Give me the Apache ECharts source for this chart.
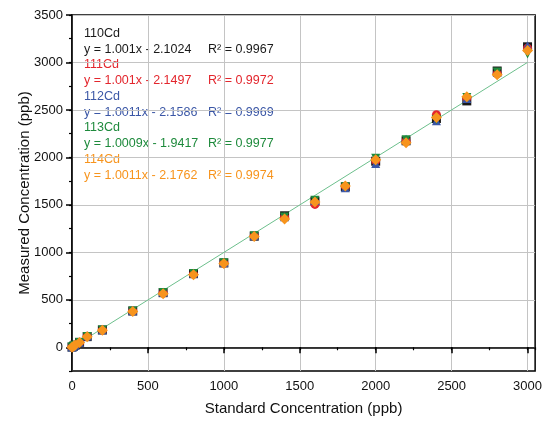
<!DOCTYPE html>
<html>
<head>
<meta charset="utf-8">
<script src="https://cdn.jsdelivr.net/npm/echarts@6/dist/echarts.min.js"></script>
<style>
  html, body { margin: 0; padding: 0; background: #fff; }
  #chart { width: 545px; height: 430px; }
</style>
</head>
<body>
<div id="chart"></div>
<script>
// standard vs measured concentration, Cd isotopes
var standardConc = [0, 10, 20, 50, 100, 200, 400, 600, 800, 1000, 1200, 1400, 1600, 1800, 2000, 2200, 2400, 2600, 2800, 3000];

var cd110 = [2, 11, 22, 52, 112, 182, 382, 575, 775, 888, 1170, 1385, 1540, 1690, 1960, 2175, 2410, 2595, 2910, 3165];
var cd111 = [1, 10, 21, 50, 115, 180, 380, 570, 770, 885, 1172, 1370, 1505, 1695, 1965, 2170, 2450, 2625, 2880, 3150];
var cd112 = [3, 12, 23, 53, 118, 185, 385, 580, 780, 892, 1175, 1375, 1545, 1680, 1935, 2190, 2385, 2620, 2895, 3175];
var cd113 = [2, 11, 22, 51, 113, 183, 383, 578, 776, 889, 1174, 1372, 1548, 1692, 1990, 2185, 2400, 2630, 2900, 3090];
var cd114 = [1, 10, 20, 49, 110, 178, 378, 565, 765, 882, 1168, 1350, 1530, 1700, 1975, 2155, 2420, 2640, 2870, 3125];

var seriesNames = ['110Cd', '111Cd', '112Cd', '113Cd', '114Cd'];
var seriesColors = ['#1a1a1a', '#e3262d', '#3b57a6', '#1e8a3c', '#f7941d'];
var seriesSymbols = ['rect', 'circle', 'triangle', 'path://M0,0 L10,0 L5,9 Z', 'diamond'];
var fitText = [
    ['y = 1.001x - 2.1024', 'R\u00b2 = 0.9967'],
    ['y = 1.001x - 2.1497', 'R\u00b2 = 0.9972'],
    ['y = 1.0011x - 2.1586', 'R\u00b2 = 0.9969'],
    ['y = 1.0009x - 1.9417', 'R\u00b2 = 0.9977'],
    ['y = 1.0011x - 2.1762', 'R\u00b2 = 0.9974']
];
// fitted line drawn across the data range
var fitSlope = 1.001;
var fitIntercept = -2.1;

var majorX = [0, 500, 1000, 1500, 2000, 2500, 3000];
var majorY = [0, 500, 1000, 1500, 2000, 2500, 3000, 3500];

var allValues = [cd110, cd111, cd112, cd113, cd114];

var myChart = echarts.init(document.getElementById('chart'));

var font = 'Liberation Sans, Arial, sans-serif';
var plainNum = function (v) { return String(v); };

var series = [];
var xMin = standardConc[0], xMax = standardConc[standardConc.length - 1];
series.push({
    type: 'line',
    data: [[xMin, fitSlope * xMin + fitIntercept], [xMax, fitSlope * xMax + fitIntercept]],
    symbol: 'none',
    lineStyle: { color: '#6cbf8c', width: 1 },
    z: 1
});
for (var i = 0; i < allValues.length; i++) {
    series.push({
        name: seriesNames[i],
        type: 'scatter',
        data: standardConc.map(function (x, k) { return [x, allValues[i][k]]; }),
        symbol: seriesSymbols[i],
        symbolSize: i === 4 ? 11 : 9,
        itemStyle: { color: seriesColors[i], opacity: 1 },
        z: 2 + i
    });
}

// legend / equation text block
var graphics = [];
for (var j = 0; j < seriesNames.length; j++) {
    var y0 = 27 + j * 31.5;
    graphics.push({
        type: 'text', left: 84, top: y0,
        style: { text: seriesNames[j], fill: seriesColors[j], font: '12.5px ' + font }
    });
    graphics.push({
        type: 'text', left: 84, top: y0 + 16,
        style: { text: fitText[j][0], fill: seriesColors[j], font: '12.5px ' + font }
    });
    graphics.push({
        type: 'text', left: 208, top: y0 + 16,
        style: { text: fitText[j][1], fill: seriesColors[j], font: '12.5px ' + font }
    });
}

var option = {
    animation: false,
    grid: {
        left: 72, top: 15, right: 7, bottom: 59,
        show: true, borderColor: '#000', borderWidth: 1.5, backgroundColor: 'transparent'
    },
    xAxis: [
        {
            type: 'value', min: 0, max: 3050, interval: 250,
            axisLine: { lineStyle: { color: '#000', width: 1.5 } },
            axisTick: { length: 3, lineStyle: { color: '#000', width: 1.2 } },
            axisLabel: { show: false },
            splitLine: { show: true, lineStyle: { color: ['#c4c4c4', 'transparent'], width: 1 } }
        },
        {
            type: 'value', min: 0, max: 3050, position: 'bottom',
            axisLine: { show: false },
            axisTick: { show: true, customValues: majorX, length: 6, lineStyle: { color: '#000', width: 1.5 } },
            axisLabel: { customValues: majorX, formatter: plainNum, color: '#111', fontSize: 13, fontFamily: font, margin: 9 },
            splitLine: { show: false },
            name: 'Standard Concentration (ppb)',
            nameLocation: 'middle', nameGap: 30, nameMoveOverlap: false,
            nameTextStyle: { color: '#111', fontSize: 15, fontFamily: font }
        }
    ],
    yAxis: [
        {
            type: 'value', min: -250, max: 3500, interval: 250,
            axisLine: { show: true, lineStyle: { color: '#000', width: 1.5 } },
            axisTick: { show: true, length: 3, lineStyle: { color: '#000', width: 1.2 } },
            axisLabel: { show: false },
            splitLine: { show: true, lineStyle: { color: ['transparent', '#c4c4c4'], width: 1 } }
        },
        {
            type: 'value', min: -250, max: 3500, position: 'left', offset: 0,
            axisLine: { show: false },
            axisTick: { show: true, customValues: majorY, length: 6, lineStyle: { color: '#000', width: 1.5 } },
            axisLabel: { customValues: majorY, formatter: plainNum, color: '#111', fontSize: 13, fontFamily: font, margin: 9 },
            splitLine: { show: false },
            name: 'Measured Concentration (ppb)',
            nameLocation: 'middle', nameGap: 40, nameRotate: 90, nameMoveOverlap: false,
            nameTextStyle: { color: '#111', fontSize: 15, fontFamily: font }
        }
    ],
    graphic: graphics,
    series: series
};

myChart.setOption(option);
</script>
</body>
</html>
